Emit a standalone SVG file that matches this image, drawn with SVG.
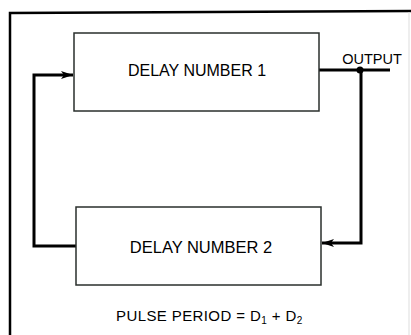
<svg xmlns="http://www.w3.org/2000/svg" width="411" height="335" viewBox="0 0 411 335">
<style>
.box{fill:#fff;stroke:#2a2f2c;stroke-width:1.5}
.wire{fill:none;stroke:#000;stroke-width:3}
.frame{fill:none;stroke:#000;stroke-width:2.5}
text{font-family:"Liberation Sans",Arial,sans-serif;fill:#000}
</style>
<defs>
<marker id="arr" viewBox="0 0 12 8" refX="12" refY="4" markerWidth="12" markerHeight="8" markerUnits="userSpaceOnUse" orient="auto">
<path d="M0,0 L12,4 L0,8 L3,4 Z" fill="#000"/>
</marker>
</defs>
<rect width="411" height="335" fill="#fff"/>
<g id="frame">
<path class="frame" d="M10,335 L10,13 L411,11"/>
<line x1="409" y1="12" x2="409" y2="335" stroke="#ddd" stroke-width="1"/>
</g>
<g id="connectors">
<path class="wire" d="M76,246 L34,246 L34,75 L73,75" marker-end="url(#arr)"/>
<path class="wire" d="M319,70 L390,70"/>
<path class="wire" d="M361,70 L361,243 L322,243" marker-end="url(#arr)"/>
<circle cx="360" cy="70" r="3.5" fill="#000"/>
</g>
<g id="delay1">
<rect class="box" x="74" y="33" width="245" height="78"/>
<text x="197" y="76" font-size="16" text-anchor="middle">DELAY NUMBER 1</text>
</g>
<g id="delay2">
<rect class="box" x="76" y="207" width="245" height="78"/>
<text x="201" y="253" font-size="16.5" text-anchor="middle">DELAY NUMBER 2</text>
</g>
<g id="output-label">
<text x="372" y="64" font-size="14.5" text-anchor="middle">OUTPUT</text>
</g>
<g id="caption">
<text x="116" y="321" font-size="15" letter-spacing="0.4">PULSE PERIOD = D<tspan font-size="10" dy="3">1</tspan><tspan dy="-3"> + D</tspan><tspan font-size="10" dy="3">2</tspan></text>
</g>
</svg>
